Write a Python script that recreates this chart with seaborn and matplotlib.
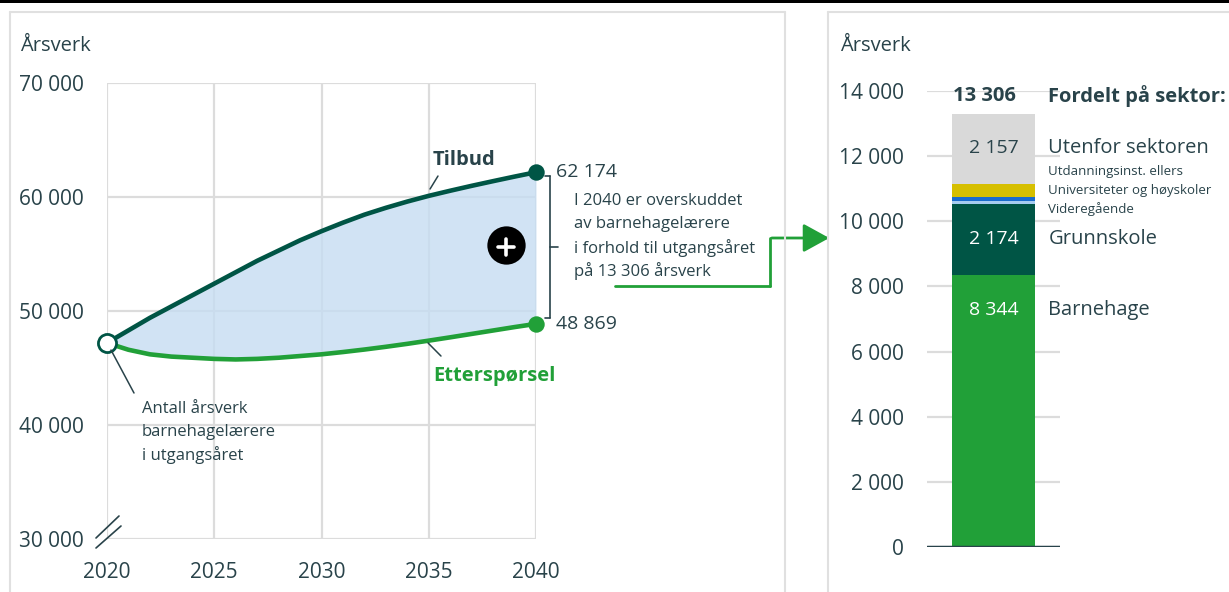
import numpy as np
import pandas as pd
import matplotlib.pyplot as plt
import seaborn as sns
from matplotlib.patches import Rectangle, FancyArrowPatch
from matplotlib.lines import Line2D

# Tilbud / etterspørsel, årsverk barnehagelærere
years = list(range(2020, 2041))
tilbud = [47200, 48300, 49400, 50400, 51400, 52400, 53400, 54400, 55300, 56200, 57000,
          57750, 58450, 59050, 59600, 60100, 60550, 60980, 61390, 61790, 62174]
etterspor = [47200, 46600, 46200, 46000, 45900, 45800, 45750, 45800, 45900, 46050, 46200,
             46400, 46620, 46860, 47120, 47400, 47690, 47990, 48290, 48590, 48869]

# Fordelt på sektor (overskudd 2040)
sektorer = ["Barnehage", "Grunnskole", "Videregående", "Universiteter og høyskoler",
            "Utdanningsinst. ellers", "Utenfor sektoren"]
sektor_verdier = [8344, 2174, 105, 132, 394, 2157]
sektor_farger = ["#21a038", "#005545", "#a6ccf0", "#1a6ccc", "#d6bf00", "#d9d9d9"]

DARK = "#005545"
GREEN = "#21a038"
TXT = "#29434a"
GRID = "#dcdcdc"

sns.set_theme(style="white")
plt.rcParams["font.family"] = ["Open Sans", "DejaVu Sans"]

W, H = 1229, 592
fig = plt.figure(figsize=(W / 100, H / 100), dpi=100)


def px(x, y):
    return x / W, 1 - y / H


def fline(x0, y0, x1, y1, **kw):
    (a, b), (c, d) = px(x0, y0), px(x1, y1)
    fig.add_artist(Line2D([a, c], [b, d], **kw))


# rammer
fig.add_artist(Rectangle((0, 1 - 3 / H), 1, 3 / H, color="black", lw=0))
for seg in [(10, 12, 785, 12), (10, 12, 10, 600), (785, 12, 785, 600),
            (828, 12, 1240, 12), (828, 12, 828, 600)]:
    fline(*seg, color="#e0e0e0", lw=1.5)

# ---------- venstre: linjediagram ----------
ax1 = fig.add_axes([107 / W, 53 / H, 429 / W, 456 / H])
ax1.set_xlim(2020, 2040)
ax1.set_ylim(30000, 70000)
ax1.set_xticks([2020, 2025, 2030, 2035, 2040])
ax1.set_yticks(range(30000, 70001, 10000))
ax1.set_yticklabels([f"{v:,}".replace(",", " ") for v in range(30000, 70001, 10000)])
ax1.tick_params(axis="y", length=0, pad=16.5, labelsize=15, labelcolor=TXT)
ax1.tick_params(axis="x", length=0, pad=16.5, labelsize=15, labelcolor=TXT)
ax1.grid(True, color=GRID, lw=1.6, zorder=0)
for s in ax1.spines.values():
    s.set_visible(False)
ax1.set_axisbelow(True)

ax1.fill_between(years, etterspor, tilbud, color="#c6ddf2", alpha=0.8, lw=0, zorder=1)
sns.lineplot(x=years, y=tilbud, ax=ax1, color=DARK, lw=3.3, zorder=3,
             solid_capstyle="round")
sns.lineplot(x=years, y=etterspor, ax=ax1, color=GREEN, lw=3.3, zorder=3,
             solid_capstyle="round")
ax1.scatter([2040], [tilbud[-1]], s=140, color=DARK, zorder=4, clip_on=False, lw=0)
ax1.scatter([2040], [etterspor[-1]], s=140, color=GREEN, zorder=4, clip_on=False, lw=0)
ax1.scatter([2020], [tilbud[0]], s=170, facecolor="white", edgecolor=DARK, lw=2,
            zorder=5, clip_on=False)

ax1.text(2035.2, 63250, "Tilbud", color=TXT, fontsize=14.5, fontweight="bold",
         va="center", ha="left")
ax1.plot([2035.06, 2035.43], [60700, 61840], color=TXT, lw=1.1, zorder=4)
ax1.text(2035.2, 44300, "Etterspørsel", color=GREEN, fontsize=14.5, fontweight="bold",
         va="center", ha="left")
ax1.plot([2034.97, 2035.57], [47190, 46050], color=TXT, lw=1.1, zorder=4)

ax1.text(2040.93, tilbud[-1], "62 174", color=TXT, fontsize=14, va="center",
         ha="left", clip_on=False)
ax1.text(2040.93, etterspor[-1], "48 869", color=TXT, fontsize=14, va="center",
         ha="left", clip_on=False)

# pluss-symbol
ax1.scatter([2038.6], [55790], s=760, color="black", zorder=6, lw=0)
fline(498, 247, 514, 247, color="white", lw=2.6, zorder=7)
fline(506, 239, 506, 255, color="white", lw=2.6, zorder=7)

# brakett og forklaring
fline(545, 176, 550, 176, color=TXT, lw=1.2)
fline(550, 176, 550, 318, color=TXT, lw=1.2)
fline(545, 318, 550, 318, color=TXT, lw=1.2)
fline(550, 247, 558, 247, color=TXT, lw=1.2)
forklaring = ["I 2040 er overskuddet", "av barnehagelærere",
              "i forhold til utgangsåret", "på 13 306 årsverk"]
for i, t in enumerate(forklaring):
    fig.text(*px(574, 201 + i * 23.3), t, color=TXT, fontsize=12, va="center")

# grønn pil
fline(615, 285.5, 770, 285.5, color=GREEN, lw=2)
fline(770, 285.5, 770, 238, color=GREEN, lw=2)
fig.add_artist(FancyArrowPatch(px(769, 238), px(832, 238), transform=fig.transFigure,
                               arrowstyle="-|>,head_length=1.0,head_width=0.55",
                               mutation_scale=16, color=GREEN, lw=2))

# startpunkt-merknad
fline(111, 350, 134, 393, color=TXT, lw=1.1)
for i, t in enumerate(["Antall årsverk", "barnehagelærere", "i utgangsåret"]):
    fig.text(*px(142, 409 + i * 23), t, color=TXT, fontsize=12, va="center")

# aksebrudd
fline(96, 538, 119, 516, color=TXT, lw=1.2)
fline(96, 548, 121, 526, color=TXT, lw=1.2)

fig.text(*px(20, 46), "Årsverk", color=TXT, fontsize=14.5, va="center")

# ---------- høyre: stablet søyle ----------
ax2 = fig.add_axes([927 / W, 45 / H, 133 / W, 456 / H])
ax2.set_xlim(-0.8, 0.8)
ax2.set_ylim(0, 14000)
ax2.set_xticks([])
yt = list(range(0, 14001, 2000))
ax2.set_yticks(yt)
ax2.set_yticklabels([f"{v:,}".replace(",", " ") for v in yt])
ax2.tick_params(axis="y", length=0, pad=16.5, labelsize=15, labelcolor=TXT)
ax2.grid(True, axis="y", color=GRID, lw=1.6, zorder=0)
ax2.set_axisbelow(True)
for s in ax2.spines.values():
    s.set_visible(False)

bunn = np.concatenate([[0], np.cumsum(sektor_verdier)[:-1]])
for v, b, c in zip(sektor_verdier, bunn, sektor_farger):
    ax2.bar(0, v, bottom=b, width=1.01, color=c, lw=0, zorder=2)
ax2.axhline(0, color=TXT, lw=2.5, zorder=3)

total = sum(sektor_verdier)
ax2.text(-0.11, 13850, f"{total:,}".replace(",", " "), color=TXT, fontsize=14.5,
         fontweight="bold", ha="center", va="center", clip_on=False)
ax2.text(0.66, 13850, "Fordelt på sektor:", color=TXT, fontsize=14.5,
         fontweight="bold", ha="left", va="center", clip_on=False)

store = [0, 1, 5]
for i in store:
    v, b = sektor_verdier[i], bunn[i]
    yl = b + v - 1060
    farge = TXT if i == 5 else "white"
    ax2.text(0, yl, f"{v:,}".replace(",", " "), color=farge, fontsize=14,
             ha="center", va="center", zorder=4)
    ax2.text(0.66, yl, sektorer[i], color=TXT, fontsize=14.5, ha="left",
             va="center", clip_on=False)

sma_y = {2: 10377, 3: 10939, 4: 11522}
for i, yv in sma_y.items():
    ax2.text(0.66, yv, sektorer[i], color=TXT, fontsize=9.5, ha="left",
             va="center", clip_on=False)

fig.text(*px(840, 46), "Årsverk", color=TXT, fontsize=14.5, va="center")

fig.savefig("out.png", dpi=100, facecolor="white")
